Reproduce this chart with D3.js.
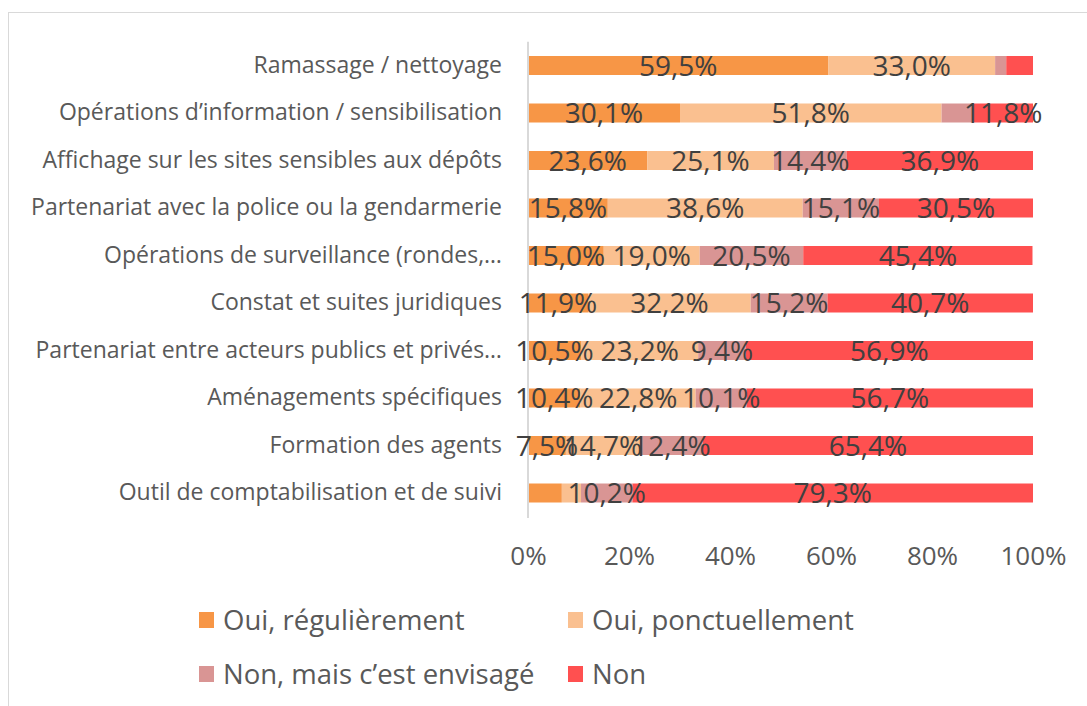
<!DOCTYPE html>
<html>
<head>
<meta charset="utf-8">
<script src="https://cdn.jsdelivr.net/npm/d3@7/dist/d3.min.js"></script>
<style>
  html, body { margin: 0; padding: 0; background: #fff; }
  svg { display: block; font-family: "Open Sans", sans-serif; }
</style>
</head>
<body>
<svg id="chart" width="1087" height="706"></svg>
<script>
const categories = [
  "Ramassage / nettoyage",
  "Opérations d’information / sensibilisation",
  "Affichage sur les sites sensibles aux dépôts",
  "Partenariat avec la police ou la gendarmerie",
  "Opérations de surveillance (rondes,…",
  "Constat et suites juridiques",
  "Partenariat entre acteurs publics et privés…",
  "Aménagements spécifiques",
  "Formation des agents",
  "Outil de comptabilisation et de suivi"
];
const seriesNames = ["Oui, régulièrement", "Oui, ponctuellement", "Non, mais c’est envisagé", "Non"];
const ouiRegulierement  = [59.5, 30.1, 23.6, 15.8, 15.0, 11.9, 10.5, 10.4, 7.5, 6.7];
const ouiPonctuellement = [33.0, 51.8, 25.1, 38.6, 19.0, 32.2, 23.2, 22.8, 14.7, 3.8];
const nonEnvisage       = [2.2, 6.3, 14.4, 15.1, 20.5, 15.2, 9.4, 10.1, 12.4, 10.2];
const non               = [5.3, 11.8, 36.9, 30.5, 45.4, 40.7, 56.9, 56.7, 65.4, 79.3];
const tickValues = [0, 20, 40, 60, 80, 100];
const colors = ["#F79646", "#FAC090", "#D99594", "#FF5050"];
const labelMin = 7; // smaller segments carry no label in the reference

const seriesValues = [ouiRegulierement, ouiPonctuellement, nonEnvisage, non];
const rows = categories.map((c, i) => {
  const o = { cat: c };
  seriesNames.forEach((s, j) => o[s] = seriesValues[j][i]);
  return o;
});

const svg = d3.select("#chart");

// outer chart border
svg.append("rect")
  .attr("x", 8.5).attr("y", 12.5)
  .attr("width", 1200).attr("height", 800)
  .attr("fill", "none").attr("stroke", "#d9d9d9").attr("stroke-width", 1);

const x = d3.scaleLinear().domain([0, 100]).range([528, 1033]);
const y = d3.scaleBand().domain(categories).range([41.75, 516.75]).paddingInner(0.6).paddingOuter(0.3);

const stack = d3.stack().keys(seriesNames);
const stacked = stack(rows);

const fmt = v => d3.format(".1f")(v).replace(".", ",") + "%";

// bars
const layers = svg.append("g").selectAll("g").data(stacked).join("g")
  .attr("fill", (d, i) => colors[i]);
layers.selectAll("rect").data(d => d).join("rect")
  .attr("x", d => x(d[0]))
  .attr("y", d => y(d.data.cat))
  .attr("width", d => x(d[1]) - x(d[0]))
  .attr("height", y.bandwidth());

// category axis
const yAxis = svg.append("g").attr("transform", `translate(${x(0)},0)`)
  .call(d3.axisLeft(y).tickSize(0).tickPadding(26));
yAxis.select(".domain").attr("stroke", "#d9d9d9").attr("stroke-width", 2)
  .attr("d", `M0,41.75V518`);
yAxis.selectAll("text").attr("font-size", 23).attr("fill", "#595959")
  .attr("font-family", "Open Sans, sans-serif");

// value axis
const xAxis = svg.append("g").attr("transform", "translate(0,538)")
  .call(d3.axisBottom(x).tickValues(tickValues).tickSize(0).tickPadding(0).tickFormat(d => d + "%"));
xAxis.select(".domain").remove();
xAxis.selectAll("text").attr("font-size", 26).attr("fill", "#595959")
  .attr("font-family", "Open Sans, sans-serif").attr("dy", "1.05em");

// data labels
const labelLayers = svg.append("g").selectAll("g").data(stacked).join("g");
labelLayers.selectAll("text").data(d => d.filter(p => (p[1] - p[0]) >= labelMin).map(p => ({p, key: d.key})))
  .join("text")
  .attr("x", d => (x(d.p[0]) + x(d.p[1])) / 2)
  .attr("y", d => y(d.p.data.cat) + y.bandwidth() / 2)
  .attr("dy", "0.36em")
  .attr("text-anchor", "middle")
  .attr("font-size", 28)
  .attr("fill", "#404040")
  .text(d => fmt(d.p.data[d.key]));

// legend
const legendPos = [[199, 620], [568, 620], [199, 674], [568, 674]];
const legend = svg.append("g").selectAll("g").data(seriesNames).join("g")
  .attr("transform", (d, i) => `translate(${legendPos[i][0]},${legendPos[i][1]})`);
legend.append("rect").attr("x", 0).attr("y", -8).attr("width", 15).attr("height", 16)
  .attr("fill", (d, i) => colors[i]);
legend.append("text").attr("x", 24).attr("y", 0).attr("dy", "0.36em")
  .attr("font-size", 27.5).attr("fill", "#595959").text(d => d);
</script>
</body>
</html>
